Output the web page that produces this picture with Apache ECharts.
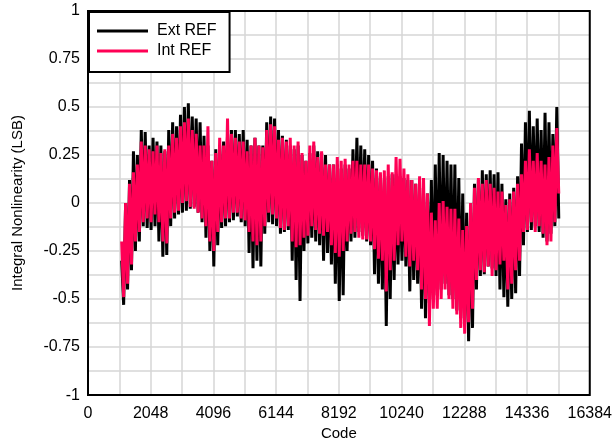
<!DOCTYPE html>
<html>
<head>
<meta charset="utf-8">
<script src="https://cdn.jsdelivr.net/npm/echarts@6/dist/echarts.min.js"></script>
<style>html,body{margin:0;padding:0;background:#fff}#c{width:615px;height:446px}</style>
</head>
<body>
<div id="c"></div>
<script>
// Sample codes: 1100, 1228, ... (one envelope sample per 128 codes)
const codeStart = 1100;
const codeStep = 128;
const xTicks = [0, 2048, 4096, 6144, 8192, 10240, 12288, 14336, 16384];
const yTicks = [-1, -0.75, -0.5, -0.25, 0, 0.25, 0.5, 0.75, 1];

// Ext REF upper / lower envelope per sample (LSB)
const extHi = [-0.3,0.0,0.12,0.27,0.25,0.38,0.37,0.3,0.34,0.32,0.3,0.27,0.38,0.42,0.4,0.46,0.5,0.52,0.45,0.44,
0.42,0.35,0.3,0.22,0.28,0.3,0.32,0.36,0.38,0.38,0.36,0.38,0.33,0.3,0.34,0.3,0.3,0.42,0.45,0.44,
0.38,0.35,0.33,0.3,0.28,0.3,0.25,0.22,0.26,0.3,0.27,0.26,0.25,0.2,0.2,0.2,0.18,0.2,0.18,0.28,
0.34,0.3,0.28,0.25,0.22,0.18,0.14,0.12,0.14,0.15,0.15,0.14,0.13,0.12,0.12,0.1,0.08,0.06,0.05,0.12,
0.2,0.26,0.25,0.22,0.2,0.2,0.13,0.05,-0.05,-0.05,0.1,0.12,0.17,0.15,0.17,0.15,0.16,0.1,0.02,0.05,
0.08,0.14,0.31,0.42,0.48,0.4,0.44,0.38,0.47,0.42,0.36,0.5];
const extLo = [-0.53,-0.45,-0.35,-0.25,-0.2,-0.12,-0.13,-0.14,-0.12,-0.2,-0.28,-0.27,-0.12,-0.08,-0.06,-0.05,-0.04,-0.03,-0.02,-0.05,
-0.1,-0.18,-0.25,-0.33,-0.22,-0.13,-0.12,-0.1,-0.09,-0.07,-0.1,-0.12,-0.26,-0.34,-0.3,-0.33,-0.16,-0.1,-0.11,-0.12,
-0.16,-0.15,-0.14,-0.3,-0.4,-0.51,-0.25,-0.21,-0.18,-0.2,-0.22,-0.3,-0.26,-0.32,-0.42,-0.51,-0.48,-0.25,-0.2,-0.18,
-0.15,-0.17,-0.2,-0.22,-0.37,-0.42,-0.45,-0.64,-0.5,-0.4,-0.32,-0.3,-0.33,-0.46,-0.4,-0.42,-0.55,-0.6,-0.52,-0.5,
-0.48,-0.45,-0.42,-0.48,-0.5,-0.56,-0.6,-0.62,-0.72,-0.65,-0.45,-0.38,-0.37,-0.33,-0.34,-0.38,-0.45,-0.49,-0.54,-0.5,
-0.47,-0.38,-0.22,-0.15,-0.14,-0.12,-0.15,-0.18,-0.2,-0.16,-0.12,-0.08];
// Int REF upper / lower envelope per sample (LSB)
const intHi = [-0.2,0.0,0.1,0.16,0.2,0.32,0.3,0.28,0.27,0.3,0.26,0.28,0.3,0.36,0.34,0.4,0.42,0.44,0.38,0.36,
0.3,0.3,0.4,0.22,0.26,0.34,0.3,0.44,0.36,0.34,0.32,0.32,0.27,0.3,0.34,0.3,0.29,0.38,0.41,0.4,
0.33,0.34,0.32,0.34,0.3,0.32,0.26,0.22,0.3,0.32,0.24,0.27,0.2,0.2,0.2,0.24,0.22,0.23,0.2,0.22,
0.22,0.2,0.2,0.2,0.18,0.17,0.16,0.17,0.2,0.16,0.24,0.23,0.18,0.15,0.12,0.1,0.14,0.13,0.05,-0.05,
-0.09,0.0,0.01,-0.02,-0.03,-0.03,-0.08,-0.14,-0.12,0.0,0.08,0.13,0.1,0.12,0.1,0.08,0.06,0.06,-0.01,0.02,
0.06,0.1,0.15,0.22,0.28,0.22,0.26,0.22,0.2,0.24,0.3,0.39];
const intLo = [-0.49,-0.42,-0.32,-0.2,-0.15,-0.1,-0.08,-0.1,-0.06,-0.1,-0.2,-0.21,-0.08,-0.05,-0.04,0.0,0.01,-0.02,-0.03,-0.05,
-0.08,-0.12,-0.2,-0.25,-0.15,-0.1,-0.08,-0.08,-0.05,-0.05,-0.08,-0.09,-0.15,-0.2,-0.22,-0.2,-0.12,-0.05,-0.06,-0.08,
-0.13,-0.14,-0.12,-0.2,-0.23,-0.22,-0.18,-0.17,-0.12,-0.14,-0.16,-0.17,-0.15,-0.22,-0.26,-0.28,-0.25,-0.2,-0.16,-0.15,
-0.18,-0.19,-0.19,-0.2,-0.24,-0.29,-0.3,-0.46,-0.35,-0.3,-0.22,-0.2,-0.28,-0.33,-0.3,-0.35,-0.45,-0.5,-0.64,-0.55,
-0.55,-0.5,-0.45,-0.5,-0.55,-0.58,-0.65,-0.68,-0.62,-0.55,-0.4,-0.35,-0.36,-0.33,-0.38,-0.35,-0.32,-0.3,-0.45,-0.42,
-0.35,-0.3,-0.15,-0.14,-0.1,-0.15,-0.12,-0.16,-0.22,-0.2,-0.1,0.05];

function zigzag(hi, lo) {
  const out = [];
  for (let i = 0; i < hi.length; i++) {
    const c = codeStart + i * codeStep;
    out.push([c, hi[i]]);
    out.push([c + codeStep / 2, lo[i]]);
  }
  return out;
}

const chart = echarts.init(document.getElementById('c'), null, {renderer: 'canvas'});
const font = 'Liberation Sans, Arial, sans-serif';
chart.setOption({
  animation: false,
  backgroundColor: '#fff',
  grid: {left: 88, right: 24, top: 11, bottom: 49, show: true, borderColor: '#000', borderWidth: 2, backgroundColor: 'transparent', z: 10},
  xAxis: {
    type: 'value', min: xTicks[0], max: xTicks[xTicks.length - 1], interval: 2048,
    name: 'Code', nameLocation: 'middle', nameGap: 28,
    nameTextStyle: {fontFamily: font, fontSize: 15, color: '#000'},
    axisLine: {show: false}, axisTick: {show: false},
    axisLabel: {fontFamily: font, fontSize: 16, color: '#000', margin: 10, formatter: v => String(v)},
    splitLine: {show: true, lineStyle: {color: '#d6d6d6', width: 1.5}},
    minorTick: {show: false, splitNumber: 2},
    minorSplitLine: {show: true, lineStyle: {color: '#d6d6d6', width: 1.5}}
  },
  yAxis: {
    type: 'value', min: yTicks[0], max: yTicks[yTicks.length - 1], interval: 0.25,
    name: 'Integral Nonlinearity (LSB)', nameLocation: 'middle', nameGap: 63,
    nameTextStyle: {fontFamily: font, fontSize: 15, color: '#000'},
    axisLine: {show: false}, axisTick: {show: false},
    axisLabel: {fontFamily: font, fontSize: 16, color: '#000', margin: 8, formatter: v => String(v)},
    splitLine: {show: true, lineStyle: {color: '#d6d6d6', width: 1.5}},
    minorTick: {show: false, splitNumber: 2},
    minorSplitLine: {show: true, lineStyle: {color: '#d6d6d6', width: 1.5}}
  },
  legend: {
    orient: 'vertical', left: 89, top: 12,
    padding: [9, 13, 11, 8],
    backgroundColor: '#fff', borderColor: '#000', borderWidth: 2, borderRadius: 0,
    icon: 'rect', itemWidth: 51, itemHeight: 3, itemGap: 0,
    textStyle: {fontFamily: font, fontSize: 16, color: '#000', lineHeight: 20, padding: [0, 0, 0, 4]},
    data: ['Ext REF', 'Int REF']
  },
  series: [
    {name: 'Ext REF', type: 'line', showSymbol: false, symbol: 'none', data: zigzag(extHi, extLo),
     itemStyle: {color: '#000'}, lineStyle: {color: '#000', width: 3, join: 'bevel'}, z: 2},
    {name: 'Int REF', type: 'line', showSymbol: false, symbol: 'none', data: zigzag(intHi, intLo),
     itemStyle: {color: '#ff0055'}, lineStyle: {color: '#ff0055', width: 3, join: 'bevel'}, z: 3}
  ]
});
</script>
</body>
</html>
